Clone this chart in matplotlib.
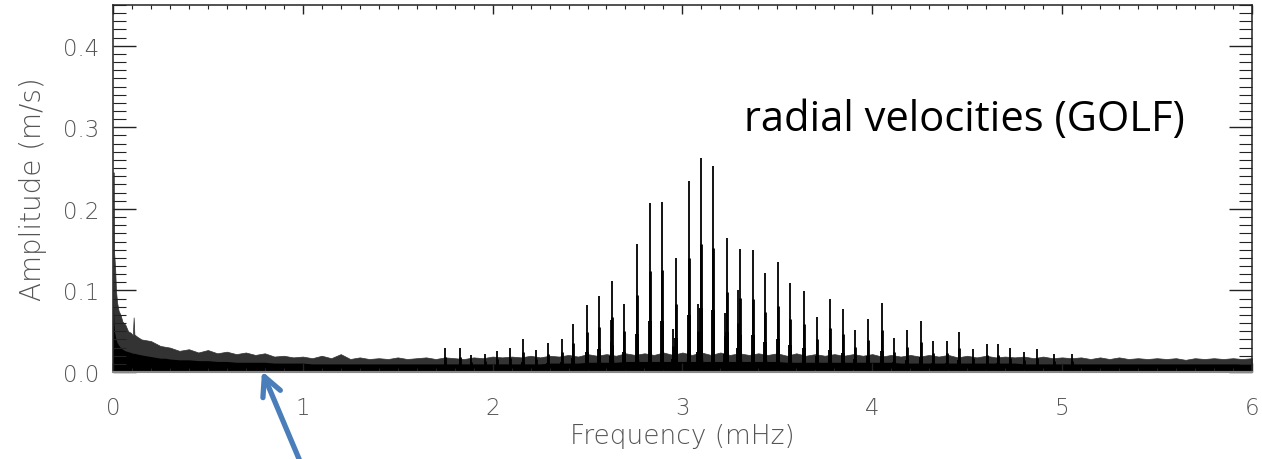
import numpy as np
import matplotlib.pyplot as plt
from matplotlib.ticker import MultipleLocator

# p-mode peaks (mHz, m/s)
peak_freq = [1.751, 1.827, 1.886, 1.960, 2.022, 2.092, 2.158, 2.229, 2.294, 2.364,
             2.425, 2.496, 2.562, 2.622, 2.631, 2.692, 2.763, 2.829, 2.893, 2.950,
             2.965, 3.033, 3.084, 3.100, 3.161, 3.226, 3.235, 3.295, 3.305, 3.372,
             3.437, 3.504, 3.568, 3.639, 3.711, 3.779, 3.848, 3.911, 3.979, 4.050,
             4.116, 4.182, 4.255, 4.322, 4.392, 4.459, 4.533, 4.603, 4.664, 4.726,
             4.800, 4.866, 4.960, 5.050]
peak_amp = [0.030, 0.030, 0.021, 0.022, 0.026, 0.029, 0.041, 0.027, 0.036, 0.040,
            0.059, 0.082, 0.093, 0.064, 0.112, 0.083, 0.157, 0.207, 0.208, 0.053,
            0.140, 0.234, 0.083, 0.262, 0.253, 0.073, 0.164, 0.100, 0.151, 0.150,
            0.122, 0.135, 0.109, 0.099, 0.067, 0.090, 0.077, 0.052, 0.065, 0.085,
            0.042, 0.051, 0.062, 0.038, 0.038, 0.049, 0.028, 0.034, 0.035, 0.029,
            0.025, 0.028, 0.022, 0.022]

# low-frequency rise (solar background) near 0 mHz
low_freq = [0.0, 0.003, 0.005, 0.008, 0.012, 0.016, 0.022, 0.030, 0.040, 0.050,
            0.065, 0.080, 0.095, 0.105, 0.109, 0.113, 0.130, 0.150, 0.175, 0.200,
            0.225, 0.250, 0.275]
low_top = [0.0, 0.245, 0.150, 0.140, 0.125, 0.100, 0.085, 0.075, 0.070, 0.062,
           0.058, 0.050, 0.048, 0.045, 0.067, 0.046, 0.043, 0.040, 0.039, 0.038,
           0.035, 0.032, 0.031]
low_core = [0.0, 0.080, 0.060, 0.050, 0.045, 0.040, 0.036, 0.033, 0.030, 0.028,
            0.026, 0.025, 0.024, 0.023, 0.023, 0.023, 0.022, 0.021, 0.020, 0.019,
            0.018, 0.017, 0.017]

# noise envelope from 0.30 to 6.00 mHz, every 0.05 mHz
noise_top = [0.030, 0.026, 0.028, 0.024, 0.027, 0.023, 0.025, 0.022, 0.024, 0.021,
             0.023, 0.019, 0.020, 0.018, 0.019, 0.017, 0.020, 0.017, 0.022, 0.016,
             0.018, 0.016, 0.017, 0.016, 0.018, 0.016, 0.017, 0.018, 0.016, 0.018,
             0.017, 0.016, 0.018, 0.017, 0.019, 0.018, 0.019, 0.018, 0.020, 0.018,
             0.020, 0.019, 0.021, 0.019, 0.022, 0.020, 0.022, 0.020, 0.023, 0.021,
             0.023, 0.021, 0.024, 0.021, 0.024, 0.021, 0.024, 0.021, 0.024, 0.021,
             0.023, 0.021, 0.023, 0.021, 0.023, 0.020, 0.023, 0.020, 0.022, 0.020,
             0.022, 0.020, 0.022, 0.020, 0.022, 0.019, 0.021, 0.019, 0.021, 0.019,
             0.021, 0.019, 0.021, 0.018, 0.020, 0.018, 0.020, 0.018, 0.019, 0.018,
             0.019, 0.017, 0.019, 0.017, 0.018, 0.017, 0.018, 0.016, 0.018, 0.016,
             0.018, 0.016, 0.017, 0.016, 0.017, 0.016, 0.017, 0.015, 0.017, 0.016,
             0.017, 0.016, 0.017, 0.016, 0.017]
noise_core = [0.016, 0.015, 0.015, 0.014, 0.014, 0.013, 0.013, 0.012, 0.012, 0.012,
              0.012, 0.011, 0.011, 0.011, 0.011, 0.010, 0.010, 0.010, 0.010, 0.010,
              0.010, 0.010, 0.010, 0.010, 0.010, 0.010, 0.010, 0.010, 0.010, 0.010,
              0.010, 0.010, 0.010, 0.010, 0.010, 0.010, 0.010, 0.010, 0.010, 0.010,
              0.011, 0.011, 0.011, 0.011, 0.012, 0.012, 0.012, 0.012, 0.013, 0.013,
              0.013, 0.013, 0.013, 0.013, 0.013, 0.013, 0.013, 0.013, 0.013, 0.013,
              0.013, 0.013, 0.013, 0.013, 0.013, 0.012, 0.012, 0.012, 0.012, 0.012,
              0.012, 0.012, 0.012, 0.012, 0.012, 0.012, 0.012, 0.011, 0.011, 0.011,
              0.011, 0.011, 0.011, 0.011, 0.011, 0.011, 0.011, 0.011, 0.011, 0.011,
              0.010, 0.010, 0.010, 0.010, 0.010, 0.010, 0.010, 0.010, 0.010, 0.010,
              0.010, 0.010, 0.010, 0.010, 0.010, 0.010, 0.010, 0.010, 0.010, 0.010,
              0.010, 0.010, 0.010, 0.010, 0.010]
noise_freq = np.round(np.arange(0.30, 6.0001, 0.05), 2)

tick_col = '#555555'
plt.rcParams['font.family'] = 'DejaVu Sans'

fig = plt.figure(figsize=(12.62, 4.60), dpi=100)
ax = fig.add_axes([0.0895, 0.189, 0.9025, 0.798])

# background noise
f_all = np.concatenate([low_freq, noise_freq])
top_all = np.concatenate([low_top, noise_top])
core_all = np.concatenate([low_core, noise_core])
ax.fill_between(f_all, 0.002, top_all, color='#333333', lw=0.5)
ax.fill_between(f_all, 0.002, core_all, color='black', lw=0)

# oscillation peaks: broadened skirt, tapered line to the top
pf = np.array(peak_freq)
pa = np.array(peak_amp)
for f0, a0 in zip(pf, pa):
    skirt = min(0.3 * a0, 0.04)
    ax.fill([f0 - 0.012, f0, f0 + 0.012], [0.008, skirt, 0.008],
            color='black', lw=0)
ax.vlines(pf, 0.002, pa, color='black', lw=1.3)
ax.vlines(pf, 0.002, pa * 0.6, color='black', lw=2.0)
ax.vlines(pf, 0.002, pa * 0.3, color='black', lw=2.8)

ax.set_xlim(0, 6)
ax.set_ylim(0, 0.45)
ax.xaxis.set_major_locator(MultipleLocator(1))
ax.xaxis.set_minor_locator(MultipleLocator(0.1))
ax.yaxis.set_major_locator(MultipleLocator(0.1))
ax.yaxis.set_minor_locator(MultipleLocator(0.01))
ax.yaxis.set_major_formatter(plt.FormatStrFormatter('%.1f'))

ax.tick_params(axis='both', which='both', direction='in', top=True, right=True,
               colors='#222222', labelcolor=tick_col, labelsize=16.5)
ax.tick_params(axis='x', which='major', length=6.5, width=1, pad=17)
ax.tick_params(axis='x', which='minor', length=3.2, width=0.8)
ax.tick_params(axis='y', which='major', length=16.5, width=1, pad=10)
ax.tick_params(axis='y', which='minor', length=9.3, width=0.8)
for lab in ax.get_xticklabels() + ax.get_yticklabels():
    lab.set_fontweight('light')

for s in ['top', 'left', 'right']:
    ax.spines[s].set_color('#222222')
    ax.spines[s].set_linewidth(1.1)
ax.spines['bottom'].set_color('#888888')
ax.spines['bottom'].set_linewidth(1.5)

ax.set_xlabel('Frequency (mHz)', fontsize=19, color=tick_col, fontweight='light', labelpad=3)
ax.set_ylabel('Amplitude (m/s)', fontsize=20, color=tick_col, fontweight='light', labelpad=11)

ax.text(0.941, 0.659, 'radial velocities (GOLF)', transform=ax.transAxes,
        ha='right', va='baseline', fontsize=30, family='Open Sans', color='black')

# blue arrow pointing at the low-frequency noise
ax.annotate('', xy=(0.2076, 0.191), xycoords='figure fraction',
            xytext=(0.2385, -0.01), textcoords='figure fraction',
            arrowprops=dict(arrowstyle='->', lw=3.8, color='#4a7ebb',
                            mutation_scale=34, shrinkA=0, shrinkB=0),
            annotation_clip=False)

fig.savefig('out.png', dpi=100)
